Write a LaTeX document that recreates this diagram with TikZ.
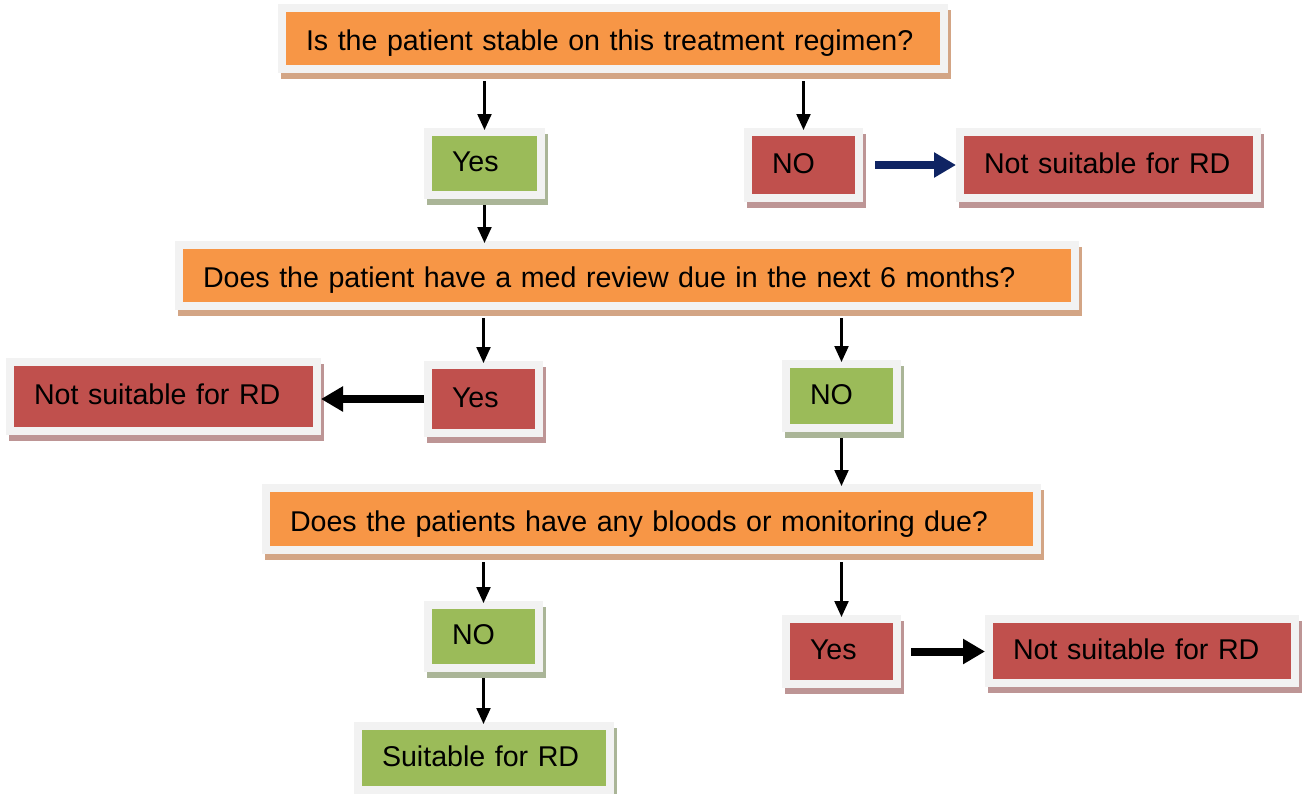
\documentclass[tikz,border=0pt]{standalone}
\usepackage{fontspec}
\setmainfont{Liberation Sans}
\usetikzlibrary{arrows.meta,shadows}
\definecolor{framegray}{HTML}{F2F2F2}
\definecolor{qorange}{HTML}{F79646}
\definecolor{okgreen}{HTML}{9BBB59}
\definecolor{nored}{HTML}{C0504D}
\definecolor{orangeshade}{HTML}{D3A585}
\definecolor{greenshade}{HTML}{AAB597}
\definecolor{redshade}{HTML}{BD9595}
\definecolor{navy}{HTML}{0F2463}
\begin{document}
\begin{tikzpicture}[x=1pt, y=-1pt, font=\fontsize{28.6}{34}\selectfont,
  box/.style={draw=framegray, line width=8pt, inner xsep=24pt, inner ysep=0pt, align=left, text height=16pt, text depth=0pt},
  qbox/.style={box, text height=24pt, fill=qorange, general shadow={fill=orangeshade, draw=orangeshade, line width=8pt, shadow xshift=3pt, shadow yshift=-6pt}},
  gbox/.style={box, fill=okgreen, general shadow={fill=greenshade, draw=greenshade, line width=8pt, shadow xshift=3pt, shadow yshift=-6pt}},
  rbox/.style={box, fill=nored, general shadow={fill=redshade, draw=redshade, line width=8pt, shadow xshift=3pt, shadow yshift=-6pt}},
  thin/.style={line width=2.2pt, -{Triangle[width=14pt,length=16pt]}},
  fat/.style={line width=8pt, -{Triangle[width=24pt,length=22pt]}}]
\useasboundingbox (0,0) rectangle (1306,793);
% questions
\node[qbox, minimum width=662pt, text width=614pt, minimum height=61pt] (q1) at (613,38.5) {\mbox{Is the patient stable on this treatment regimen?}};
\node[qbox, minimum width=896pt, text width=848pt, minimum height=61pt] (q2) at (627,275.5) {\mbox{Does the patient have a med review due in the next 6 months?}};
\node[qbox, minimum width=771pt, text width=723pt, minimum height=62pt] (q3) at (651.5,519) {\mbox{Does the patients have any bloods or monitoring due?}};
% answers
\node[gbox, minimum width=113pt, text width=65pt, minimum height=63pt] (yes1) at (484.5,163.5) {Yes};
\node[rbox, minimum width=111pt, text width=63pt, minimum height=66pt] (no1) at (803.5,165) {NO};
\node[rbox, minimum width=111pt, text width=63pt, minimum height=68pt] (yes2) at (483.5,399) {Yes};
\node[gbox, minimum width=111pt, text width=63pt, minimum height=64pt] (no2) at (841.5,396) {NO};
\node[gbox, minimum width=111pt, text width=63pt, minimum height=63pt] (no3) at (483.5,636.5) {NO};
\node[rbox, minimum width=111pt, text width=63pt, minimum height=65pt] (yes3) at (841.5,651.5) {Yes};
% outcomes
\node[rbox, minimum width=297pt, text width=249pt, minimum height=66pt] (ns1) at (1108.5,165) {\mbox{Not suitable for RD}};
\node[rbox, minimum width=307pt, text width=259pt, minimum height=69pt] (ns2) at (163.5,396.5) {\mbox{Not suitable for RD}};
\node[rbox, minimum width=306pt, text width=258pt, minimum height=64pt] (ns3) at (1142,651) {\mbox{Not suitable for RD}};
\node[gbox, minimum width=252pt, text width=204pt, minimum height=64pt] (suit) at (484,758) {\mbox{Suitable for RD}};
% arrows
\foreach \a/\b in {q1/yes1, q1/no1, q2/yes2, q2/no2, q3/no3, q3/yes3}
  \draw[thin, shorten <=8pt, shorten >=-2pt] (\a.south -| \b.north) -- (\b.north);
\foreach \a/\b in {yes1/q2, no2/q3, no3/suit}
  \draw[thin, shorten <=6pt, shorten >=-2pt] (\a.south) -- (\a.south |- \b.north);
\draw[fat, navy, shorten <=12pt] (no1.east) -- (ns1.west |- no1.east);
\draw[fat] (yes2.west) -- (ns2.east |- yes2.west);
\draw[fat, shorten <=10pt] (yes3.east) -- (ns3.west |- yes3.east);
\end{tikzpicture}
\end{document}
